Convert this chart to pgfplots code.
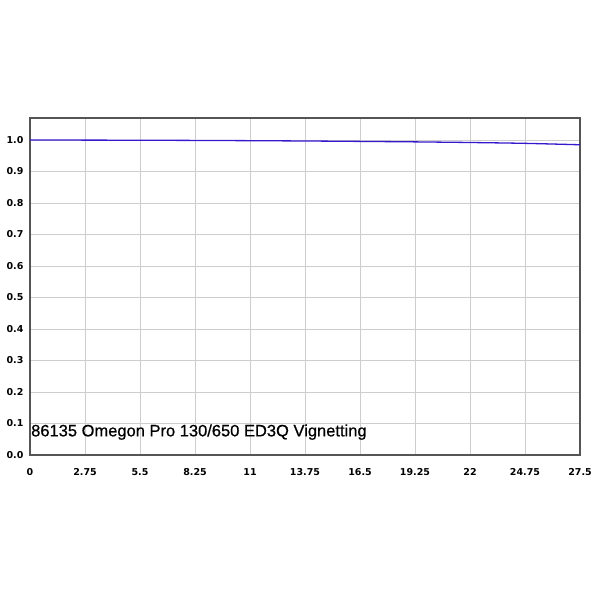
\documentclass[border=0pt]{standalone}
\usepackage{pgfplots}
\pgfplotsset{compat=1.18}
\usepackage{fontspec}
\setmainfont{Liberation Sans}
\newfontfamily\titlefont[FakeBold=0.6]{Liberation Sans}
\newfontfamily\tickfont{DejaVu Sans}
\definecolor{curve}{RGB}{55,25,205}
\definecolor{gridc}{RGB}{205,205,205}
\definecolor{framec}{RGB}{85,85,85}
\begin{document}
\begin{tikzpicture}
\path[use as bounding box] (0pt,0pt) rectangle (600pt,600pt);
\begin{axis}[
  at={(30pt,145pt)}, anchor=south west,
  scale only axis,
  width=550pt, height=337pt,
  xmin=0, xmax=27.5,
  ymin=0, ymax=1.07,
  xtick={0,2.75,5.5,8.25,11,13.75,16.5,19.25,22,24.75,27.5},
  xticklabels={0,2.75,5.5,8.25,11,13.75,16.5,19.25,22,24.75,27.5},
  ytick={0,0.1,...,1.0},
  yticklabel style={/pgf/number format/fixed,/pgf/number format/fixed zerofill,/pgf/number format/precision=1,xshift=-3pt},
  /pgf/number format/assume math mode=true,
  ticklabel style={font=\tickfont\bfseries\fontsize{9.5}{11}\selectfont},
  xticklabel style={yshift=-10pt},
  major tick length=0pt,
  grid=major,
  major grid style={gridc, line width=0.9pt},
  axis line style={framec, line width=1.3pt},
  clip=false,
]
\addplot[curve, line width=1.3pt, smooth] coordinates {
 (0,1.0) (2.75,0.9998) (5.5,0.9994) (8.25,0.9988) (11,0.998) (13.75,0.997)
 (16.5,0.9957) (19.25,0.9942) (22,0.9922) (24.75,0.9895) (27.5,0.985)
};
\node[anchor=west, inner sep=1pt, font=\titlefont\fontsize{16.5}{19}\selectfont] at (rel axis cs:0,0.068) {86135 Omegon Pro 130/650 ED3Q Vignetting};
\end{axis}
\end{tikzpicture}
\end{document}
